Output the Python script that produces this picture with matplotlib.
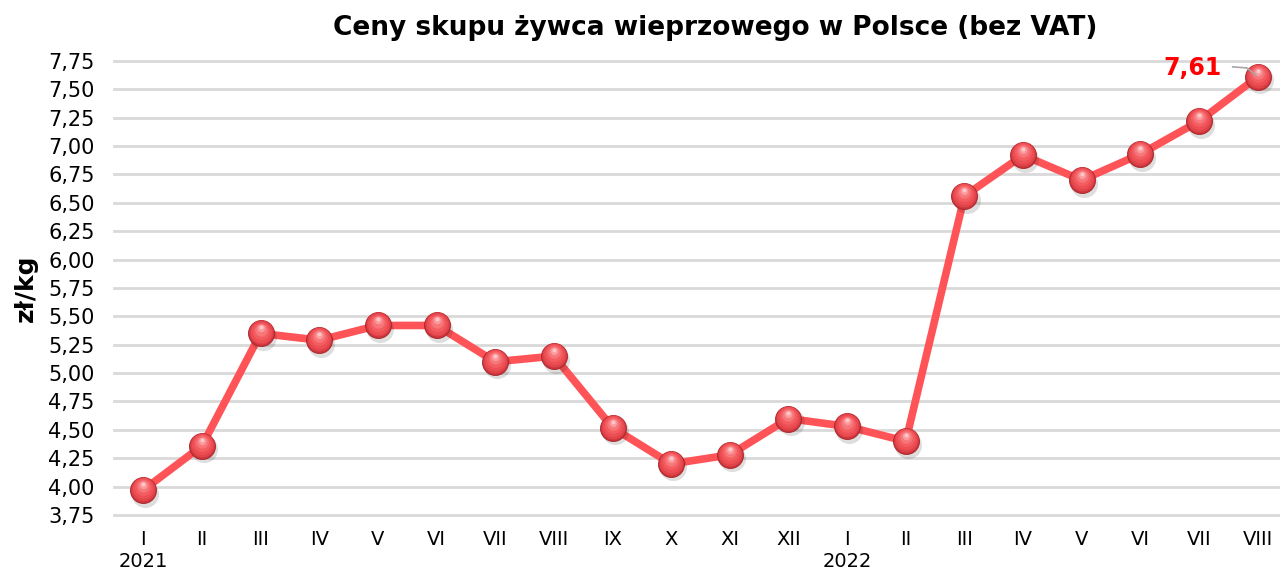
import matplotlib
matplotlib.use("Agg")
import matplotlib.pyplot as plt
import matplotlib.transforms as mtransforms
import numpy as np

months = ["I", "II", "III", "IV", "V", "VI", "VII", "VIII", "IX", "X", "XI", "XII",
          "I", "II", "III", "IV", "V", "VI", "VII", "VIII"]
years = {0: "2021", 12: "2022"}
prices = [3.97, 4.36, 5.35, 5.29, 5.42, 5.42, 5.10, 5.15, 4.52, 4.20, 4.28, 4.60,
          4.53, 4.40, 6.56, 6.92, 6.70, 6.93, 7.22, 7.61]
yticks = [3.75 + 0.25 * i for i in range(17)]

plt.rcParams['font.family'] = ['DejaVu Sans']
fig = plt.figure(figsize=(12.8, 5.72), dpi=100)
ax = fig.add_axes([114 / 1280, 1 - 515 / 572, 1 - 114 / 1280, (515 - 61) / 572])

x = np.arange(len(prices))
ax.set_xlim(-0.5, 19.38)
ax.set_ylim(3.75, 7.75)

for yv in yticks:
    ax.axhline(yv, color="#D9D9D9", lw=2, zorder=0, clip_on=False)

ax.plot(x, prices, color="#FF5457", lw=5.5, zorder=2, solid_capstyle="round")

# sphere-like markers
shadow = mtransforms.offset_copy(ax.transData, fig=fig, x=1.5, y=-2.5, units='points')
ax.scatter(x, prices, s=380, color="#000000", alpha=0.13, lw=0, zorder=3, transform=shadow)
ax.scatter(x, prices, s=350, color="#C9343A", edgecolors="#A82428", linewidths=0.6, zorder=4)
layers = [(300, "#E0434A", 0.0, 0.7), (230, "#EC4E53", 0.0, 1.3), (150, "#F35C60", 0.0, 2.0),
          (80, "#F7767A", 0.0, 2.8), (30, "#FA9A9D", 0.0, 3.6), (8, "#FDC7C8", 0.0, 4.3)]
for s, c, dx, dy in layers:
    tr = mtransforms.offset_copy(ax.transData, fig=fig, x=-dx, y=dy, units='points')
    ax.scatter(x, prices, s=s, color=c, lw=0, zorder=5, transform=tr)

# annotation of last value
last = len(prices) - 1
ax.annotate(f"{prices[last]:.2f}".replace(".", ","), xy=(x[last], prices[last]), xytext=(-26, 6.5),
            textcoords="offset points", ha="right", va="center",
            color="#FF0000", fontsize=17, fontweight="bold", zorder=6)
px, py = ax.transData.transform((x[last], prices[last]))
ax.add_line(plt.Line2D([px - 25, px - 11, px - 2], [py + 10, py + 9, py + 2],
                       transform=mtransforms.IdentityTransform(), color="#A6A6A6",
                       lw=1.2, zorder=7))

ax.set_yticks(yticks)
ax.set_yticklabels([f"{v:.2f}".replace(".", ",") for v in yticks], fontsize=15)
ax.set_xticks(x)
ax.set_xticklabels([m + ("\n" + years[i] if i in years else "") for i, m in enumerate(months)],
                   fontsize=14, linespacing=1.2, va="top")
ax.tick_params(axis="both", length=0)
ax.tick_params(axis="y", pad=14)
ax.tick_params(axis="x", pad=11)
for sp in ax.spines.values():
    sp.set_visible(False)

ax.set_ylabel("zł/kg", fontsize=18, fontweight="bold")
ax.yaxis.set_label_coords((38 - 114) / (1280 - 114), 0.5)
fig.text(715 / 1280, 1 - 28 / 572, "Ceny skupu żywca wieprzowego w Polsce (bez VAT)", ha="center", va="center",
         fontsize=19, fontweight="bold")

fig.savefig("out.png", dpi=100)
